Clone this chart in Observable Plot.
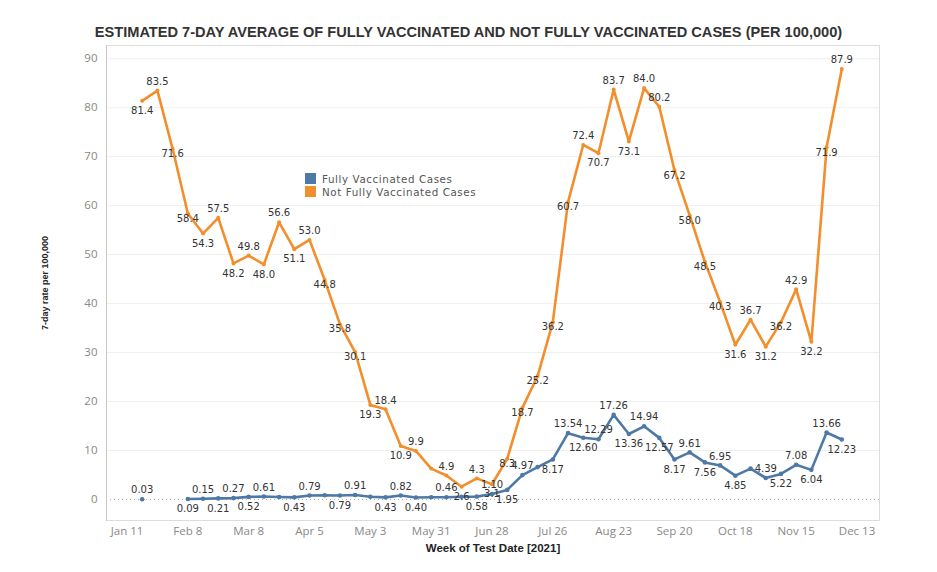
<!DOCTYPE html>
<html>
<head>
<meta charset="utf-8">
<script src="https://cdn.jsdelivr.net/npm/d3@7"></script>
<script src="https://cdn.jsdelivr.net/npm/@observablehq/plot@0.6"></script>
<style>
  html, body { margin: 0; padding: 0; background: #fff; }
  body { width: 937px; height: 572px; position: relative; overflow: hidden; }
  #title { position: absolute; top: 23px; left: 0; width: 937px; text-align: center;
           font: bold 14.6px "Liberation Sans", Arial, sans-serif; color: #333; line-height: 18px; }
  #chart { position: absolute; top: 40px; left: 0; }
  #legend { position: absolute; left: 305px; top: 172px; font: 10.3px "DejaVu Sans", sans-serif;
            letter-spacing: 0.6px; color: #555; }
  #legend div { display: flex; align-items: center; height: 13px; white-space: nowrap; }
  #legend span.sw { display: inline-block; width: 11px; height: 11px; margin-right: 6px; }
</style>
</head>
<body>
<div id="title">ESTIMATED 7-DAY AVERAGE OF FULLY VACCINATED AND NOT FULLY VACCINATED CASES (PER 100,000)</div>
<div id="chart"></div>
<div id="legend"></div>
<script>
// ---------- data ----------
const weeks = [
  "2021-01-18","2021-01-25","2021-02-01","2021-02-08","2021-02-15","2021-02-22",
  "2021-03-01","2021-03-08","2021-03-15","2021-03-22","2021-03-29","2021-04-05",
  "2021-04-12","2021-04-19","2021-04-26","2021-05-03","2021-05-10","2021-05-17",
  "2021-05-24","2021-05-31","2021-06-07","2021-06-14","2021-06-21","2021-06-28",
  "2021-07-05","2021-07-12","2021-07-19","2021-07-26","2021-08-02","2021-08-09",
  "2021-08-16","2021-08-23","2021-08-30","2021-09-06","2021-09-13","2021-09-20",
  "2021-09-27","2021-10-04","2021-10-11","2021-10-18","2021-10-25","2021-11-01",
  "2021-11-08","2021-11-15","2021-11-22","2021-11-29","2021-12-06"
];
const notFully = [
  81.4, 83.5, 71.6, 58.4, 54.3, 57.5,
  48.2, 49.8, 48.0, 56.6, 51.1, 53.0,
  44.8, 35.8, 30.1, 19.3, 18.4, 10.9,
  9.9, 6.3, 4.9, 2.6, 4.3, 3.1,
  8.3, 18.7, 25.2, 36.2, 60.7, 72.4,
  70.7, 83.7, 73.1, 84.0, 80.2, 67.2,
  58.0, 48.5, 40.3, 31.6, 36.7, 31.2,
  36.2, 42.9, 32.2, 71.9, 87.9
];
const fully = [
  0.03, null, null, 0.09, 0.15, 0.21,
  0.27, 0.52, 0.61, 0.50, 0.43, 0.79,
  0.85, 0.79, 0.91, 0.55, 0.43, 0.82,
  0.40, 0.45, 0.46, 0.55, 0.58, 1.10,
  1.95, 4.97, 6.6, 8.17, 13.54, 12.60,
  12.29, 17.26, 13.36, 14.94, 12.57, 8.17,
  9.61, 7.56, 6.95, 4.85, 6.3, 4.39,
  5.22, 7.08, 6.04, 13.66, 12.23
];
// weeks whose value labels are not shown in the source
const notFullyUnlabeled = ["2021-05-31"];
const fullyUnlabeled = ["2021-03-22","2021-04-12","2021-05-03","2021-05-31","2021-06-14","2021-07-19","2021-10-25"];

const seriesNames = ["Fully Vaccinated Cases", "Not Fully Vaccinated Cases"];
const seriesColors = ["#4e79a7", "#f28e2b"];

const tickWeeks = ["2021-01-11","2021-02-08","2021-03-08","2021-04-05","2021-05-03","2021-05-31",
                   "2021-06-28","2021-07-26","2021-08-23","2021-09-20","2021-10-18","2021-11-15","2021-12-13"];
const tickLabels = ["Jan 11","Feb 8","Mar 8","Apr 5","May 3","May 31","Jun 28","Jul 26","Aug 23","Sep 20","Oct 18","Nov 15","Dec 13"];
const yTicks = [0,10,20,30,40,50,60,70,80,90];

// ---------- build tables ----------
const parse = d3.utcParse("%Y-%m-%d");
function table(values, unlabeled, fmt) {
  return weeks.map((w, i) => ({
    date: parse(w), value: values[i],
    label: (values[i] == null || unlabeled.includes(w)) ? null : d3.format(fmt)(values[i])
  }));
}
const orangeRows = table(notFully, notFullyUnlabeled, ".1f");
const blueRows = table(fully, fullyUnlabeled, ".2f");

function neighbours(rows, i) {
  const p = rows[i-1] && rows[i-1].value != null ? rows[i-1].value : null;
  const n = rows[i+1] && rows[i+1].value != null ? rows[i+1].value : null;
  return [p, n];
}
// orange: peaks above, troughs below; steep monotonic points centred; shallow ones by curvature
function placeExtremum(rows) {
  rows.forEach((r, i) => {
    if (r.value == null) return;
    const [p, n] = neighbours(rows, i);
    const peak = (p == null || r.value >= p) && (n == null || r.value >= n);
    const trough = (p == null || r.value <= p) && (n == null || r.value <= n);
    if (peak) r.side = "above";
    else if (trough) r.side = "below";
    else if (Math.min(Math.abs(r.value - p), Math.abs(r.value - n)) > 4) r.side = "center";
    else r.side = (p + n - 2 * r.value) > 0 ? "below" : "above";
  });
}
// blue: alternate, with strong extrema forced
function placeAlternate(rows) {
  let last = "below";
  rows.forEach((r, i) => {
    if (r.value == null || r.label == null) return;
    const [p, n] = neighbours(rows, i);
    let side = last === "above" ? "below" : "above";
    if (p != null || n != null) {
      const dp = p == null ? Infinity : r.value - p;
      const dn = n == null ? Infinity : r.value - n;
      if (dp > 1.2 && dn > 1.2) side = "above";
      else if (dp < -1.2 && dn < -1.2) side = "below";
    }
    r.side = side; last = side;
  });
}
placeExtremum(orangeRows);
placeAlternate(blueRows);

const labelMap = new Map(tickWeeks.map((w, i) => [+parse(w), tickLabels[i]]));
const width = 937, height = 532;

const labelFont = {fontSize: 10, fontFamily: "DejaVu Sans", fill: "#333"};
function labels(rows) {
  const L = rows.filter(r => r.label != null);
  return [
    Plot.text(L.filter(r => r.side === "above"), {x: "date", y: "value", text: "label", dy: -9, ...labelFont}),
    Plot.text(L.filter(r => r.side === "below"), {x: "date", y: "value", text: "label", dy: 10, ...labelFont}),
    Plot.text(L.filter(r => r.side === "center"), {x: "date", y: "value", text: "label", dy: 5, ...labelFont})
  ];
}

const titleFont = {fontFamily: "'Liberation Sans Narrow', 'Liberation Sans', sans-serif", fontWeight: "bold", fill: "#222"};

const chart = Plot.plot({
  width, height,
  marginLeft: 106, marginRight: 58, marginTop: 5, marginBottom: 52,
  style: {fontFamily: "'Open Sans', sans-serif", fontSize: "11.5px", color: "#888", background: "#fff"},
  x: {type: "utc", domain: [parse("2021-01-11"), parse("2021-12-13")], range: [126.5, 856.5]},
  y: {domain: [-4.3, 92.7]},
  marks: [
    Plot.ruleY(yTicks.filter(t => t > 0), {stroke: "#efefef", strokeWidth: 1}),
    Plot.ruleY([0], {stroke: "#aaa", strokeDasharray: "1,3", strokeWidth: 1}),
    Plot.frame({stroke: "#ddd"}),
    Plot.frame({anchor: "left", stroke: "#c8c8c8"}),
    Plot.axisY({ticks: yTicks, tickSize: 0, tickPadding: 9, label: null, fill: "#888", fontSize: 11.5}),
    Plot.axisX({ticks: tickWeeks.map(parse), tickFormat: d => labelMap.get(+d), tickSize: 0, tickPadding: 6,
      label: null, fill: "#888", fontSize: 11.5}),
    Plot.text(["7-day rate per 100,000"], {frameAnchor: "left", dx: -61, rotate: -90, text: d => d,
      textAnchor: "middle", lineAnchor: "middle", fontSize: 9, ...titleFont}),
    Plot.text(["Week of Test Date [2021]"], {frameAnchor: "bottom", dy: 28, text: d => d,
      textAnchor: "middle", lineAnchor: "middle", fontSize: 11.5, ...titleFont}),
    Plot.line(orangeRows, {x: "date", y: "value", stroke: seriesColors[1], strokeWidth: 2.6, curve: "linear"}),
    Plot.dot(orangeRows, {x: "date", y: "value", r: 2, fill: seriesColors[1]}),
    Plot.line(blueRows, {x: "date", y: "value", stroke: seriesColors[0], strokeWidth: 2.6, curve: "linear"}),
    Plot.dot(blueRows.filter(r => r.value != null), {x: "date", y: "value", r: 2.3, fill: seriesColors[0]}),
    ...labels(orangeRows),
    ...labels(blueRows)
  ]
});
document.getElementById("chart").appendChild(chart);

const legend = document.getElementById("legend");
seriesNames.forEach((name, i) => {
  const row = document.createElement("div");
  const sw = document.createElement("span");
  sw.className = "sw"; sw.style.background = seriesColors[i];
  row.appendChild(sw);
  row.appendChild(document.createTextNode(name));
  legend.appendChild(row);
});
</script>
</body>
</html>
